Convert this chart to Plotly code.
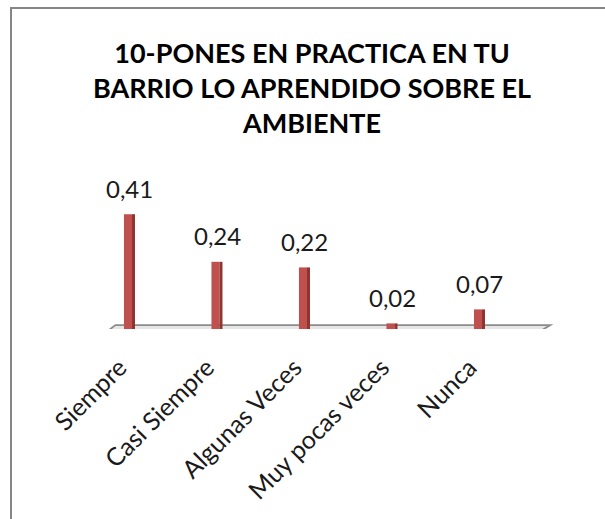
import plotly.graph_objects as go

categories = ["Siempre", "Casi Siempre", "Algunas Veces", "Muy pocas veces", "Nunca"]
values = [0.41, 0.24, 0.22, 0.02, 0.07]
value_labels = ["0,41", "0,24", "0,22", "0,02", "0,07"]
title_text = "10-PONES EN PRACTICA EN TU<br>BARRIO LO APRENDIDO SOBRE EL<br>AMBIENTE"

W, H = 605, 519
step = 87.5          # px per category
x0_px = 128.5        # px of first category
xr = [-0.6, 5.0]
base_px = 329
yr = [0, 0.6]
ppu = 280            # px per unit on y

ml = x0_px + xr[0] * step
mr = W - (x0_px + xr[1] * step)
mb = H - base_px
mt = base_px - yr[1] * ppu
pw, ph = W - ml - mr, H - mt - mb

fig = go.Figure()
xs = list(range(len(categories)))
# main face of bars
fig.add_trace(go.Bar(x=xs, y=values, width=0.092, offset=-0.052,
                     marker=dict(color="#C0504D", line=dict(width=0)), hoverinfo="skip"))
# darker side face
fig.add_trace(go.Bar(x=xs, y=values, width=0.034, offset=0.04,
                     marker=dict(color="#8E3431", line=dict(width=0)), hoverinfo="skip"))

# floor (3D base plane)
fig.add_shape(type="path", xref="x", yref="y",
              path="M -0.245 -0.009 L 4.7 -0.009 L 4.82 0.014 L -0.15 0.014 Z",
              fillcolor="#E6E6E6", line=dict(color="#8C8C8C", width=1.8), layer="below")

for i, (v, t) in enumerate(zip(values, value_labels)):
    fig.add_annotation(x=i, y=v, text=t, showarrow=False, yshift=26, xshift=1,
                       font=dict(family="Lato", size=24, color="#1a1a1a"))

# outer frame of the chart area
fig.add_shape(type="rect", xref="paper", yref="paper",
              x0=(11 - ml) / pw, x1=(660 - ml) / pw,
              y0=(H - mb - 580) / ph, y1=(H - mb - 8) / ph,
              line=dict(color="#868686", width=2), fillcolor="rgba(0,0,0,0)")

fig.update_layout(
    width=W, height=H, margin=dict(l=ml, r=mr, t=mt, b=mb, pad=0),
    paper_bgcolor="white", plot_bgcolor="white",
    barmode="overlay", showlegend=False,
    title=dict(text=title_text, x=(312 - ml) / pw, xanchor="center", xref="paper",
               y=1 - 63 / H, yanchor="middle", yref="container",
               font=dict(family="Lato", size=27, color="black", weight="bold")),
    xaxis=dict(range=xr, tickmode="array", tickvals=xs,
               ticktext=categories, tickangle=-45, showgrid=False, zeroline=False,
               showline=False, ticks="", ticklabelstandoff=18, ticklabelshift=-9,
               tickfont=dict(family="Lato", size=25, color="#1a1a1a")),
    yaxis=dict(range=yr, visible=False),
)
fig.write_html("out.html", post_script="document.body.style.margin='0';",
               config={"displayModeBar": False})
